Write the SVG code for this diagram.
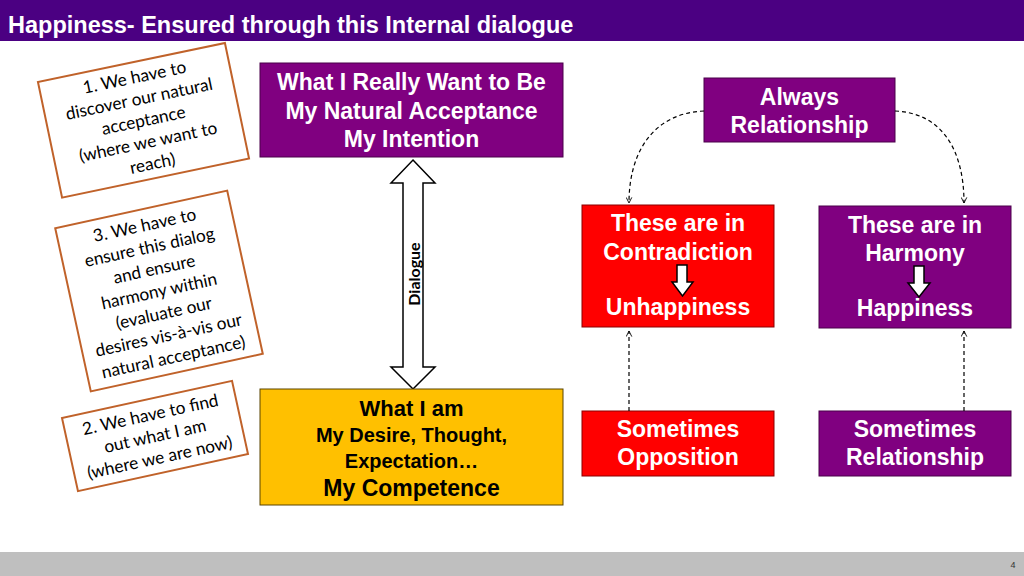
<svg xmlns="http://www.w3.org/2000/svg" width="1024" height="576" viewBox="0 0 1024 576">
<style>
.hd{font-family:"Liberation Sans",Arial,sans-serif;font-weight:bold;font-size:23.5px;fill:#fff}
.bx{font-family:"Liberation Sans",Arial,sans-serif;font-weight:bold;font-size:23px;fill:#fff;text-anchor:middle}
.bk{fill:#000}
.note rect{fill:#fff;stroke:#C0622A;stroke-width:2}
.note text{font-family:Lato,"Open Sans",sans-serif;font-size:17.3px;fill:#000;text-anchor:middle}
.pur{fill:#800080;stroke:#4a004a;stroke-width:1}
.red{fill:#FF0000;stroke:#8a0000;stroke-width:1}
.yel{fill:#FFC000;stroke:#5a4500;stroke-width:1}
.dash{fill:none;stroke:#000;stroke-width:1.2;stroke-dasharray:4,3}
.arr{fill:#fff;stroke:#000;stroke-width:1.5;stroke-linejoin:miter}
</style>
<defs>
<marker id="ah" viewBox="0 0 10 10" refX="9" refY="5" markerWidth="7" markerHeight="7" orient="auto" markerUnits="userSpaceOnUse">
<path d="M1,1 L9,5 L1,9" fill="none" stroke="#000" stroke-width="1.3"/>
</marker>
</defs>
<rect x="0" y="0" width="1024" height="576" fill="#fff"/>
<g id="header">
<rect x="0" y="0" width="1024" height="41" fill="#4B0082"/>
<text class="hd" x="8" y="33">Happiness- Ensured through this Internal dialogue</text>
</g>
<g id="footer">
<rect x="0" y="552" width="1024" height="24" fill="#BFBFBF"/>
<text x="1013" y="568" font-family="Liberation Sans,sans-serif" font-size="9" fill="#333" text-anchor="middle">4</text>
</g>

<g id="note1" class="note" transform="translate(143.5,120.3) rotate(-11.8)">
<rect x="-95.5" y="-59" width="191" height="118"/>
<text x="0" y="-38">1. We have to</text>
<text x="0" y="-16">discover our natural</text>
<text x="0" y="6">acceptance</text>
<text x="0" y="28">(where we want to</text>
<text x="0" y="50">reach)</text>
</g>
<g id="note3" class="note" transform="translate(159,291) rotate(-12.3)">
<rect x="-88" y="-83.5" width="176" height="167"/>
<text x="0" y="-61.5">3. We have to</text>
<text x="0" y="-39">ensure this dialog</text>
<text x="0" y="-16.5">and ensure</text>
<text x="0" y="6">harmony within</text>
<text x="0" y="28.5">(evaluate our</text>
<text x="0" y="51">desires vis-à-vis our</text>
<text x="0" y="73.5">natural acceptance)</text>
</g>
<g id="note2" class="note" transform="translate(155,436) rotate(-12.3)">
<rect x="-87" y="-37.5" width="174" height="75"/>
<text x="0" y="-16">2. We have to find</text>
<text x="0" y="6">out what I am</text>
<text x="0" y="28">(where we are now)</text>
</g>

<g id="want">
<rect class="pur" x="260" y="63" width="303" height="94"/>
<text class="bx" x="411.5" y="90">What I Really Want to Be</text>
<text class="bx" x="411.5" y="119">My Natural Acceptance</text>
<text class="bx" x="411.5" y="147">My Intention</text>
</g>
<g id="dialogue">
<polygon class="arr" points="413,160 435,183 423,183 423,367 435,367 413,389 391,367 403,367 403,183 391,183"/>
<text transform="translate(419.5,274) rotate(-90)" font-family="Lato,'Open Sans',sans-serif" font-weight="bold" font-size="16" text-anchor="middle" fill="#000">Dialogue</text>
</g>
<g id="whatiam">
<rect class="yel" x="260" y="389" width="303" height="116"/>
<text class="bx bk" x="411.5" y="416" style="font-size:22px">What I am</text>
<text class="bx bk" x="411.5" y="442" style="font-size:20px">My Desire, Thought,</text>
<text class="bx bk" x="411.5" y="468" style="font-size:20px">Expectation…</text>
<text class="bx bk" x="411.5" y="496">My Competence</text>
</g>
<g id="always">
<rect class="pur" x="704" y="78" width="191" height="64"/>
<text class="bx" x="799.5" y="105">Always</text>
<text class="bx" x="799.5" y="133">Relationship</text>
</g>
<g id="contradiction">
<rect class="red" x="582" y="205" width="192" height="122"/>
<text class="bx" x="678" y="231">These are in</text>
<text class="bx" x="678" y="260">Contradiction</text>
<polygon class="arr" points="677,265 687,265 687,282 693,282 682.5,296 672,282 677,282"/>
<text class="bx" x="678" y="315">Unhappiness</text>
</g>
<g id="harmony">
<rect class="pur" x="819" y="206" width="192" height="122"/>
<text class="bx" x="915" y="233">These are in</text>
<text class="bx" x="915" y="261">Harmony</text>
<polygon class="arr" points="914,266 924,266 924,283 930,283 919,297 908,283 914,283"/>
<text class="bx" x="915" y="316">Happiness</text>
</g>
<g id="opposition">
<rect class="red" x="582" y="411" width="192" height="65"/>
<text class="bx" x="678" y="437">Sometimes</text>
<text class="bx" x="678" y="465">Opposition</text>
</g>
<g id="srelationship">
<rect class="pur" x="819" y="411" width="192" height="65"/>
<text class="bx" x="915" y="437">Sometimes</text>
<text class="bx" x="915" y="465">Relationship</text>
</g>

<g id="connectors">
<path class="dash" d="M704,111 C655,113 629,150 629,203" marker-end="url(#ah)"/>
<path class="dash" d="M895,111 C942,113 964,150 964,203" marker-end="url(#ah)"/>
<path class="dash" d="M629,411 L629,331" marker-end="url(#ah)"/>
<path class="dash" d="M964,411 L964,331" marker-end="url(#ah)"/>
</g>
</svg>
